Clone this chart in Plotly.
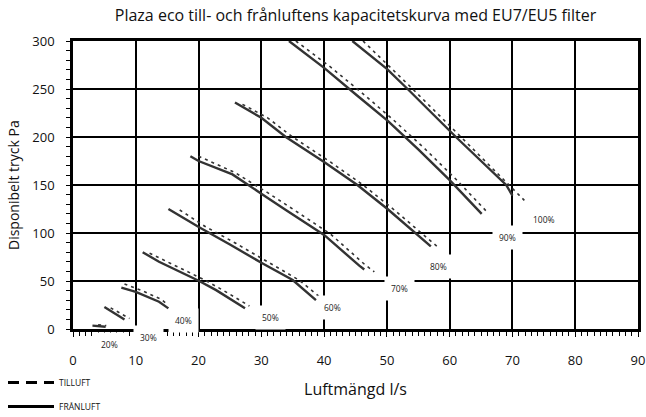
import plotly.graph_objects as go

# ---- data ----
pct_labels = ["20%", "30%", "40%", "50%", "60%", "70%", "80%", "90%", "100%"]

fran_x = {
    "20%": [3.1, 5.2],
    "30%": [5.0, 8.2],
    "40%": [7.7, 10.0, 13.7, 15.2],
    "50%": [11.1, 13.7, 20.1, 22.8, 27.4],
    "60%": [15.2, 20.1, 25.0, 30.0, 35.0, 38.7],
    "70%": [18.7, 20.0, 25.4, 28.3, 30.0, 33.9, 40.0, 45.6, 46.4],
    "80%": [25.8, 30.0, 33.9, 40.0, 45.3, 50.1, 57.0],
    "90%": [34.4, 40.0, 45.3, 50.1, 55.0, 60.0, 65.1],
    "100%": [44.5, 50.0, 53.3, 61.0, 69.0, 70.0],
}
fran_y = {
    "20%": [3.5, 2.4],
    "30%": [23, 10],
    "40%": [43, 38.7, 28.4, 21.5],
    "50%": [80, 70, 50, 40.5, 21.5],
    "60%": [125, 106, 88, 69, 51, 30],
    "70%": [180, 175, 161, 148, 141, 124, 98, 66, 62],
    "80%": [236, 220, 200, 174, 150, 125, 86],
    "90%": [300, 272, 243, 217, 187, 155, 120],
    "100%": [300, 271, 250, 200, 150, 139],
}
till_x = {
    "20%": [4.0, 5.3],
    "30%": [6.0, 9.0],
    "40%": [8.2, 11.0, 14.0, 14.8],
    "50%": [12.2, 15.0, 21.0, 24.0, 28.1],
    "60%": [17.0, 21.0, 26.0, 31.0, 36.0, 39.2],
    "70%": [20.0, 25.8, 29.0, 31.0, 35.0, 41.0, 46.5, 48.0],
    "80%": [27.0, 31.0, 35.0, 41.0, 46.2, 51.0, 58.0],
    "90%": [35.5, 41.0, 46.2, 51.0, 56.0, 61.0, 65.8],
    "100%": [46.2, 50.4, 53.8, 61.5, 69.5, 71.9],
}
till_y = {
    "20%": [4.5, 3.5],
    "30%": [22, 11],
    "40%": [47, 40, 31, 27],
    "50%": [79, 70, 51, 40, 24],
    "60%": [124, 107, 89, 70, 51, 34],
    "70%": [180, 163, 150, 142, 125, 99, 67, 59.5],
    "80%": [234, 220, 200, 174, 150, 125, 86],
    "90%": [300, 273, 245, 218, 188, 156, 123],
    "100%": [300, 274, 252, 202, 150, 134],
}
label_x = [5.8, 12.1, 17.6, 31.5, 41.3, 52.0, 58.3, 69.2, 75.0]
label_y = [-16.5, -8.5, 8.5, 12, 22, 42, 64.7, 95, 114]

x_range = [0, 90]
y_range = [0, 300]
x_ticks = list(range(0, 91, 10))
y_ticks = list(range(0, 301, 50))

title = "Plaza eco till- och frånluftens kapacitetskurva med EU7/EU5 filter"
x_title = "Luftmängd l/s"
y_title = "Disponibelt tryck Pa"
legend_names = ["TILLUFT", "FRÅNLUFT"]

FONT = "Open Sans, Noto Sans, sans-serif"
LINE = "#333333"
W, H = 646, 417
ML, MR, MT, MB = 73, 8, 41, 88

fig = go.Figure()
for p in pct_labels:
    fig.add_trace(go.Scatter(
        x=till_x[p], y=till_y[p], mode="lines",
        line=dict(color=LINE, width=1.6, dash="3px,4px"),
        showlegend=False, hoverinfo="skip"))
    fig.add_trace(go.Scatter(
        x=fran_x[p], y=fran_y[p], mode="lines",
        line=dict(color=LINE, width=2.4),
        showlegend=False, hoverinfo="skip"))

# legend entries
fig.add_trace(go.Scatter(x=[None], y=[None], mode="lines", name=legend_names[0],
                         line=dict(color="black", width=3, dash="11px,7px"),
                         legendgroup="a", legendrank=1))
fig.add_trace(go.Scatter(x=[None], y=[None], mode="lines", name=legend_names[1],
                         line=dict(color="black", width=3),
                         legendgroup="b", legendrank=2))

y_span = y_range[1] - y_range[0]
for t, lx, ly in zip(pct_labels, label_x, label_y):
    fig.add_annotation(x=lx, xref="x", y=(ly - y_range[0]) / y_span, yref="paper",
                       xanchor="center", yanchor="middle",
                       text=t, showarrow=False,
                       font=dict(size=8.5, color="#222", family=FONT),
                       bgcolor="white", borderpad=6)

# y-axis title as rotated text left of the tick labels
fig.add_annotation(x=(13 - ML) / (W - ML - MR), xref="paper", y=0.5, yref="paper",
                   text=y_title, textangle=-90, showarrow=False,
                   xanchor="center", yanchor="middle",
                   font=dict(size=14, color="#111", family=FONT))

fig.update_layout(
    width=W, height=H,
    margin=dict(l=ML, r=MR, t=MT, b=MB, autoexpand=False),
    paper_bgcolor="white", plot_bgcolor="white",
    font=dict(family=FONT, color="#111"),
    title=dict(text=title, xref="paper", x=0.5, xanchor="center",
               yref="container", y=1 - 15 / H, yanchor="middle",
               font=dict(size=16, color="#111", family=FONT)),
    legend=dict(xref="container", yref="container", x=3 / W, y=0.1175,
                xanchor="left", yanchor="top", itemwidth=46,
                font=dict(size=8.5, color="#111", family=FONT),
                tracegroupgap=5, bgcolor="rgba(0,0,0,0)"),
)
fig.update_xaxes(
    range=x_range, tickvals=x_ticks, ticks="outside", ticklen=5, tickwidth=1,
    tickcolor="black", ticklabelstandoff=13,
    minor=dict(dtick=1, ticks="outside", ticklen=4, tickcolor="black", showgrid=False),
    showgrid=True, gridcolor="black", gridwidth=1.5,
    showline=True, linecolor="black", linewidth=2.5, mirror=True,
    zeroline=False,
    title=dict(text=x_title, font=dict(size=16, family=FONT), standoff=16),
    tickfont=dict(size=13, family=FONT),
)
fig.update_yaxes(
    range=y_range, tickvals=y_ticks, ticks="outside", ticklen=4, tickwidth=1,
    tickcolor="black", ticklabelstandoff=9,
    minor=dict(dtick=10, ticks="outside", ticklen=4, tickcolor="black", showgrid=False),
    showgrid=True, gridcolor="black", gridwidth=1.5,
    showline=True, linecolor="black", linewidth=2.5, mirror=True,
    zeroline=False,
    tickfont=dict(size=13, family=FONT),
)

# the page's default 8px body margin would shift the whole figure
fig.write_html("out.html", config={"displayModeBar": False},
               post_script="document.body.style.margin='0';")
